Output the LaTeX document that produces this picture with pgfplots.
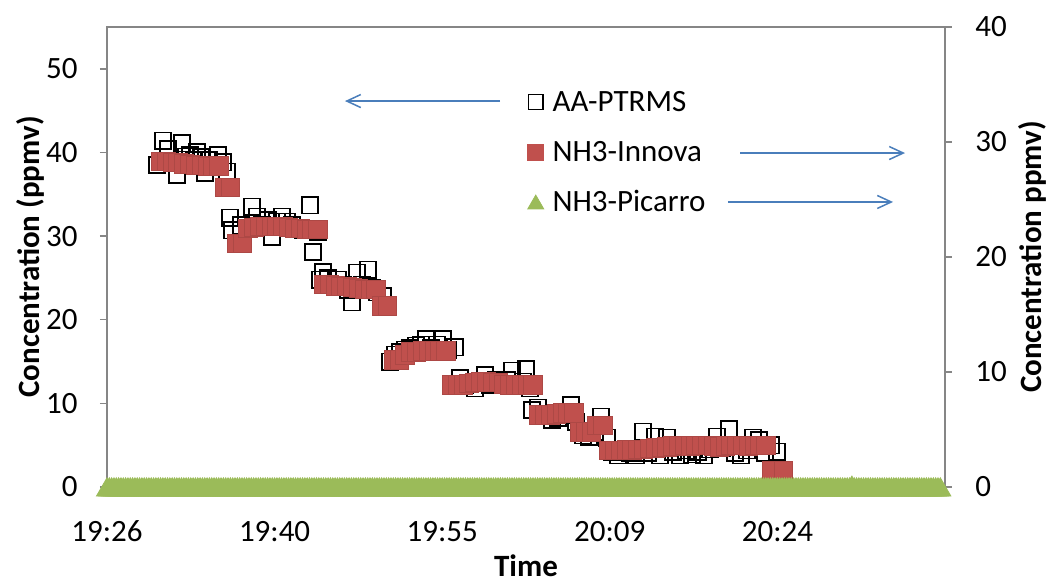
\documentclass[border=0pt]{standalone}
\usepackage{fontspec}
\setmainfont{Carlito}
\usepackage{pgfplots}
\pgfplotsset{compat=1.18}
\usetikzlibrary{arrows.meta}
\definecolor{axgray}{HTML}{868686}
\definecolor{innova}{HTML}{C0504D}
\definecolor{picarro}{HTML}{9BBB59}
\definecolor{arrowblue}{HTML}{4A7EBB}
\newcommand{\chartfont}{\fontsize{15.5pt}{18pt}\selectfont}
\begin{document}
\begin{tikzpicture}
\useasboundingbox (-53.5pt,-48pt) rectangle (469.5pt,243.5pt);
\pgfplotsset{
  common/.style={scale only axis, width=419pt, height=230pt,
    xmin=26.4, xmax=98.4, ymin=0, clip=false,
    /pgf/number format/assume math mode=true,
    tick label style={font=\chartfont, text=black},
    label style={font=\chartfont\bfseries, inner sep=0pt},
    axis line style={draw=axgray, line width=0.75pt},
    major tick style={draw=axgray, line width=0.75pt},
    major tick length=3.5pt, tick align=outside},
}
\begin{axis}[common, ymax=55, ytick={0,10,20,30,40,50},
  xtick={26.4,40.8,55.2,69.6,84}, xticklabels={19:26,19:40,19:55,20:09,20:24},
  xtick pos=bottom, ytick pos=left,
  xticklabel style={anchor=base, inner sep=0pt, yshift=-24pt},
  yticklabel style={anchor=east, inner sep=0pt, xshift=-11pt},
  xlabel={Time}, ylabel={Concentration (ppmv)},
  xlabel style={at={(axis description cs:0.5,-0.172)}, anchor=center},
  ylabel style={at={(axis description cs:-0.0919,0.5)}, anchor=center},
]
\addplot[only marks, mark=square, mark size=4.1pt, mark options={draw=black, line width=0.8pt, fill=none}] coordinates {
(30.70,38.5)(31.21,41.4)(31.64,40.4)(32.16,38.9)(32.41,37.3)(32.84,41.1)(33.19,39.5)(33.53,39.7)(33.88,39.1)(34.13,40.0)(34.48,39.4)(34.82,37.6)(35.16,39.1)(35.51,38.5)(35.94,39.7)(36.37,38.8)(36.71,37.7)
(36.97,32.2)(37.14,30.7)(37.57,29.0)(37.91,31.3)(38.86,33.5)(39.29,32.3)(39.72,31.3)(40.23,31.9)(40.58,29.9)(41.01,31.7)(41.44,32.3)(41.87,31.7)(42.30,31.3)(42.72,31.0)(43.24,30.7)(43.84,33.7)(44.10,28.1)(44.53,30.5)
(44.70,24.8)(44.96,25.7)(45.39,25.0)(45.82,24.2)(46.25,24.8)(46.68,24.2)(47.11,23.6)(47.45,22.1)(47.88,25.6)(48.31,24.2)(48.82,26.0)(49.17,23.8)(49.60,23.3)(50.11,22.8)
(50.71,15.0)(51.14,15.8)(51.57,16.1)(52.00,16.4)(52.43,16.6)(52.95,16.9)(53.38,17.0)(53.81,17.7)(54.24,16.6)(54.75,17.0)(55.27,17.7)(55.70,16.4)(56.30,16.7)
(56.73,13.0)(57.16,12.2)(57.59,12.4)(58.02,11.8)(58.45,12.4)(58.88,13.4)(59.31,12.2)(59.82,12.8)(60.34,12.2)(60.77,12.8)(61.20,13.9)(61.71,12.2)(62.14,12.6)(62.40,14.1)(62.74,11.8)
(62.92,9.2)(63.43,9.5)(64.03,8.6)(64.63,8.0)(65.15,8.3)(65.75,8.6)(66.27,9.8)(66.70,7.8)(67.30,6.2)(67.81,6.0)(68.33,6.6)(68.84,8.4)(69.36,5.9)
(69.79,4.2)(70.30,3.8)(70.82,4.4)(71.34,4.1)(71.85,3.8)(72.45,6.6)(72.88,4.1)(73.48,6.0)(73.91,3.8)(74.51,5.9)(75.03,4.2)(75.63,3.8)(76.15,4.4)(76.66,3.9)(77.18,4.2)(77.69,3.8)(78.21,4.5)(78.81,6.0)(79.25,4.7)(79.84,6.9)(80.36,4.1)(80.87,3.8)(81.39,4.4)(81.90,5.9)(82.42,5.6)(82.93,4.1)(83.45,5.0)(83.97,4.2)
};
\end{axis}
\begin{axis}[common, ymax=40, ytick={0,10,20,30,40},
  axis y line*=right, axis x line=none,
  yticklabel style={anchor=west, inner sep=0pt, xshift=11.5pt},
  ylabel={Concentration ppmv)},
  ylabel style={at={(axis description cs:1.104,0.5)}, anchor=center},
  legend image code/.code={\draw[#1] plot coordinates {(0pt,0pt)};},
  legend cell align=left,
  legend style={draw=none, fill=none, at={(0.5021,0.8587)}, anchor=north west,
    inner sep=0pt, outer sep=0pt, row sep=15pt, column sep=4.4pt, font=\chartfont,
    nodes={inner sep=0pt, text height=10pt, text depth=0pt}},
]
\addlegendimage{mark=square, mark size=3.6pt, black, line width=0.6pt}
\addlegendentry{AA-PTRMS}
\addlegendimage{mark=square*, mark size=4pt, innova, mark options={fill=innova, draw=innova}}
\addlegendentry{NH3-Innova}
\addlegendimage{mark=triangle*, mark size=4.6pt, picarro, mark options={fill=picarro, draw=picarro, yshift=-1.15pt}}
\addlegendentry{NH3-Picarro}
\addplot[forget plot, only marks, mark=square*, mark size=4.6pt, mark options={fill=innova, draw=innova!90!black, line width=0.3pt}] coordinates {
(31.0,28.32)(31.5,28.32)(32.0,28.24)(32.5,28.24)(33.0,28.10)(33.5,28.06)(34.0,27.97)(34.5,27.97)(35.0,27.89)(35.5,27.89)(36.0,27.93)
(36.5,26.06)(37.0,26.06)
(37.5,21.2)(38.0,21.2)
(38.5,22.48)(39.0,22.57)(39.5,22.66)(40.0,22.66)(40.5,22.66)(41.0,22.66)(41.5,22.66)(42.0,22.57)(42.5,22.48)(43.0,22.48)(43.5,22.40)(44.0,22.40)(44.5,22.40)
(45.0,17.60)(45.5,17.60)(46.0,17.50)(46.5,17.43)(47.0,17.43)(47.5,17.35)(48.0,17.26)(48.5,17.17)(49.0,17.17)(49.5,17.17)
(50.0,15.77)(50.5,15.77)
(51.0,11.07)(51.5,11.07)(52.0,11.50)(52.5,11.76)(53.0,11.76)(53.5,11.85)(54.0,11.85)(54.5,11.85)(55.0,11.85)(55.5,11.85)
(56.0,8.90)(56.5,8.90)(57.0,8.90)(57.5,9.00)(58.0,9.10)(58.5,9.15)(59.0,9.15)(59.5,9.10)(60.0,9.10)(60.5,8.95)(61.0,8.90)(61.5,8.90)(62.0,8.90)(62.5,8.90)(63.0,8.90)
(63.5,6.27)(64.0,6.27)(64.5,6.27)(65.0,6.35)(65.5,6.45)(66.0,6.45)(66.5,6.45)
(67.0,4.79)(67.5,4.79)(68.0,4.79)(68.5,5.36)(69.0,5.36)
(69.5,3.20)(70.0,3.20)(70.5,3.20)(71.0,3.22)(71.5,3.22)(72.0,3.30)(72.5,3.30)(73.0,3.35)(73.5,3.40)(74.0,3.45)(74.5,3.50)(75.0,3.57)(75.5,3.57)(76.0,3.60)(76.5,3.57)(77.0,3.60)(77.5,3.65)(78.0,3.60)(78.5,3.57)(79.0,3.50)(79.5,3.57)(80.0,3.60)(80.5,3.65)(81.0,3.60)(81.5,3.57)(82.0,3.60)(82.5,3.65)(83.0,3.65)
(83.5,1.44)(84.5,1.44)
};
\addplot[forget plot, only marks, mark=triangle*, mark size=6.1pt, mark options={fill=picarro, draw=picarro, yshift=-1.5pt}] coordinates {
(26.4,0)(26.6,0)(26.8,0)
(27,0)(27.2,0)(27.4,0)(27.6,0)(27.8,0)(28,0)(28.2,0)(28.4,0)(28.6,0)(28.8,0)
(29,0)(29.2,0)(29.4,0)(29.6,0)(29.8,0)(30,0)(30.2,0)(30.4,0)(30.6,0)(30.8,0)
(31,0)(31.2,0)(31.4,0)(31.6,0)(31.8,0)(32,0)(32.2,0)(32.4,0)(32.6,0)(32.8,0)
(33,0)(33.2,0)(33.4,0)(33.6,0)(33.8,0)(34,0)(34.2,0)(34.4,0)(34.6,0)(34.8,0)
(35,0)(35.2,0)(35.4,0)(35.6,0)(35.8,0)(36,0)(36.2,0)(36.4,0)(36.6,0)(36.8,0)
(37,0)(37.2,0)(37.4,0)(37.6,0)(37.8,0)(38,0)(38.2,0)(38.4,0)(38.6,0)(38.8,0)
(39,0)(39.2,0)(39.4,0)(39.6,0)(39.8,0)(40,0)(40.2,0)(40.4,0)(40.6,0)(40.8,0)
(41,0)(41.2,0)(41.4,0)(41.6,0)(41.8,0)(42,0)(42.2,0)(42.4,0)(42.6,0)(42.8,0)
(43,0)(43.2,0)(43.4,0)(43.6,0)(43.8,0)(44,0)(44.2,0)(44.4,0)(44.6,0)(44.8,0)
(45,0)(45.2,0)(45.4,0)(45.6,0)(45.8,0)(46,0)(46.2,0)(46.4,0)(46.6,0)(46.8,0)
(47,0)(47.2,0)(47.4,0)(47.6,0)(47.8,0)(48,0)(48.2,0)(48.4,0)(48.6,0)(48.8,0)
(49,0)(49.2,0)(49.4,0)(49.6,0)(49.8,0)(50,0)(50.2,0)(50.4,0)(50.6,0)(50.8,0)
(51,0)(51.2,0)(51.4,0)(51.6,0)(51.8,0)(52,0)(52.2,0)(52.4,0)(52.6,0)(52.8,0)
(53,0)(53.2,0)(53.4,0)(53.6,0)(53.8,0)(54,0)(54.2,0)(54.4,0)(54.6,0)(54.8,0)
(55,0)(55.2,0)(55.4,0)(55.6,0)(55.8,0)(56,0)(56.2,0)(56.4,0)(56.6,0)(56.8,0)
(57,0)(57.2,0)(57.4,0)(57.6,0)(57.8,0)(58,0)(58.2,0)(58.4,0)(58.6,0)(58.8,0)
(59,0)(59.2,0)(59.4,0)(59.6,0)(59.8,0)(60,0)(60.2,0)(60.4,0)(60.6,0)(60.8,0)
(61,0)(61.2,0)(61.4,0)(61.6,0)(61.8,0)(62,0)(62.2,0)(62.4,0)(62.6,0)(62.8,0)
(63,0)(63.2,0)(63.4,0)(63.6,0)(63.8,0)(64,0)(64.2,0)(64.4,0)(64.6,0)(64.8,0)
(65,0)(65.2,0)(65.4,0)(65.6,0)(65.8,0)(66,0)(66.2,0)(66.4,0)(66.6,0)(66.8,0)
(67,0)(67.2,0)(67.4,0)(67.6,0)(67.8,0)(68,0)(68.2,0)(68.4,0)(68.6,0)(68.8,0)
(69,0)(69.2,0)(69.4,0)(69.6,0)(69.8,0)(70,0)(70.2,0)(70.4,0)(70.6,0)(70.8,0)
(71,0)(71.2,0)(71.4,0)(71.6,0)(71.8,0)(72,0)(72.2,0)(72.4,0)(72.6,0)(72.8,0)
(73,0)(73.2,0)(73.4,0)(73.6,0)(73.8,0)(74,0)(74.2,0)(74.4,0)(74.6,0)(74.8,0)
(75,0)(75.2,0)(75.4,0)(75.6,0)(75.8,0)(76,0)(76.2,0)(76.4,0)(76.6,0)(76.8,0)
(77,0)(77.2,0)(77.4,0)(77.6,0)(77.8,0)(78,0)(78.2,0)(78.4,0)(78.6,0)(78.8,0)
(79,0)(79.2,0)(79.4,0)(79.6,0)(79.8,0)(80,0)(80.2,0)(80.4,0)(80.6,0)(80.8,0)
(81,0)(81.2,0)(81.4,0)(81.6,0)(81.8,0)(82,0)(82.2,0)(82.4,0)(82.6,0)(82.8,0)
(83,0)(83.2,0)(83.4,0)(83.6,0)(83.8,0)(84,0)(84.2,0)(84.4,0)(84.6,0)(84.8,0)
(85,0)(85.2,0)(85.4,0)(85.6,0)(85.8,0)(86,0)(86.2,0)(86.4,0)(86.6,0)(86.8,0)
(87,0)(87.2,0)(87.4,0)(87.6,0)(87.8,0)(88,0)(88.2,0)(88.4,0)(88.6,0)(88.8,0)
(89,0)(89.2,0)(89.4,0)(89.6,0)(89.8,0)(90,0)(90.2,0)(90.4,0.15)(90.6,0)(90.8,0)
(91,0)(91.2,0)(91.4,0)(91.6,0)(91.8,0)(92,0)(92.2,0)(92.4,0)(92.6,0)(92.8,0)
(93,0)(93.2,0)(93.4,0)(93.6,0)(93.8,0)(94,0)(94.2,0)(94.4,0)(94.6,0)(94.8,0)
(95,0)(95.2,0)(95.4,0)(95.6,0)(95.8,0)(96,0)(96.2,0)(96.4,0)(96.6,0)(96.8,0)
(97,0)(97.2,0)(97.4,0)(97.6,0)(97.8,0)(98,0)
};
\draw[arrowblue, line width=0.75pt, -{Straight Barb[length=7pt,width=6.5pt]}] (rel axis cs:0.469,0.839) -- (rel axis cs:0.284,0.839);
\draw[arrowblue, line width=0.75pt, -{Straight Barb[length=7pt,width=6.5pt]}] (rel axis cs:0.7554,0.726) -- (rel axis cs:0.9523,0.726);
\draw[arrowblue, line width=0.75pt, -{Straight Barb[length=7pt,width=6.5pt]}] (rel axis cs:0.741,0.6196) -- (rel axis cs:0.938,0.6196);
\end{axis}
\end{tikzpicture}
\end{document}
